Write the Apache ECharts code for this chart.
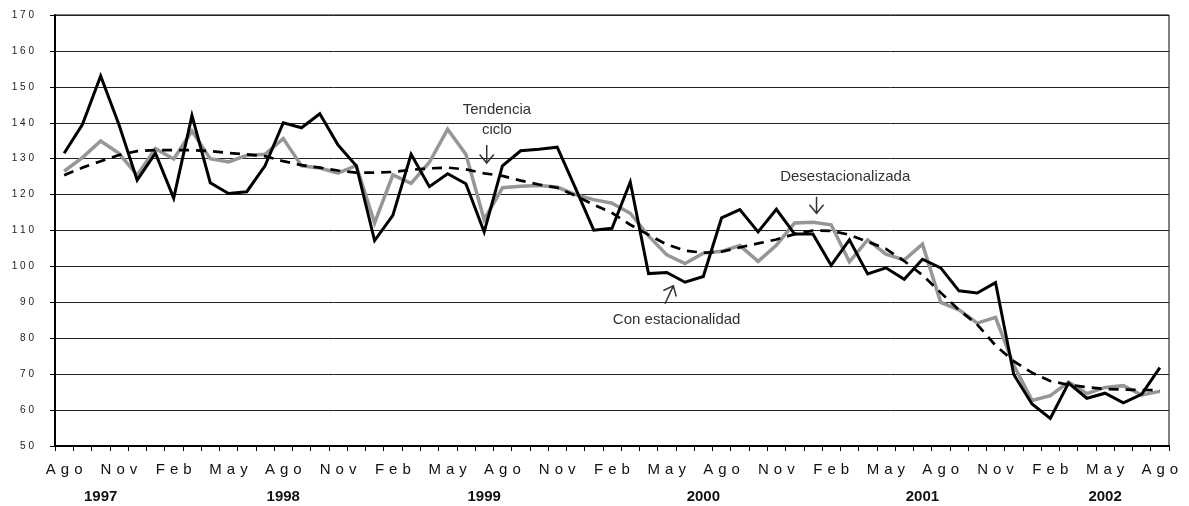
<!DOCTYPE html>
<html>
<head>
<meta charset="utf-8">
<script src="https://cdn.jsdelivr.net/npm/echarts@6/dist/echarts.min.js"></script>
<style>
  html, body { margin: 0; padding: 0; background: #fff; }
  #chart { width: 1189px; height: 506px; }
</style>
</head>
<body>
<div id="chart"></div>
<script>
// Monthly categories, Aug 1997 – Aug 2002
const categories = [
  'Ago-97','Sep-97','Oct-97','Nov-97','Dic-97',
  'Ene-98','Feb-98','Mar-98','Abr-98','May-98','Jun-98','Jul-98','Ago-98','Sep-98','Oct-98','Nov-98','Dic-98',
  'Ene-99','Feb-99','Mar-99','Abr-99','May-99','Jun-99','Jul-99','Ago-99','Sep-99','Oct-99','Nov-99','Dic-99',
  'Ene-00','Feb-00','Mar-00','Abr-00','May-00','Jun-00','Jul-00','Ago-00','Sep-00','Oct-00','Nov-00','Dic-00',
  'Ene-01','Feb-01','Mar-01','Abr-01','May-01','Jun-01','Jul-01','Ago-01','Sep-01','Oct-01','Nov-01','Dic-01',
  'Ene-02','Feb-02','Mar-02','Abr-02','May-02','Jun-02','Jul-02','Ago-02'
];

// Year captions under the month labels (category index -> year)
const yearLabels = { 2: '1997', 12: '1998', 23: '1999', 35: '2000', 47: '2001', 57: '2002' };

// Series with seasonality
const conEstacionalidad = [
  131.5, 139.5, 153.0, 139.5, 124.0,
  131.5, 119.0, 142.0, 123.3, 120.3, 120.8, 128.0, 140.0, 138.6, 142.5, 133.8, 128.0,
  107.2, 114.2, 131.2, 122.2, 125.8, 123.0, 109.6, 128.0, 132.2, 132.6, 133.2, 121.8,
  110.1, 110.6, 123.5, 98.0, 98.3, 95.6, 97.2, 113.5, 115.8, 109.6, 115.9, 109.0,
  109.0, 100.3, 107.4, 97.9, 99.6, 96.4, 102.0, 99.6, 93.2, 92.6, 95.5, 69.9,
  61.7, 57.7, 67.5, 63.3, 64.7, 62.0, 64.4, 71.8
];

// Seasonally adjusted series
const desestacionalizada = [
  126.5, 130.3, 134.9, 131.5, 125.4,
  132.8, 129.9, 137.7, 130.0, 129.1, 130.9, 131.2, 135.6, 128.0, 127.4, 126.0, 128.1,
  112.1, 125.5, 123.1, 129.0, 138.2, 131.2, 113.0, 121.9, 122.3, 122.5, 122.1, 120.0,
  118.6, 117.6, 114.8, 108.5, 103.2, 100.8, 103.7, 104.2, 105.8, 101.4, 105.9, 112.1,
  112.3, 111.6, 101.3, 107.4, 103.4, 101.8, 106.2, 90.0, 87.9, 84.2, 85.8, 72.5,
  62.7, 64.0, 67.8, 64.6, 66.3, 66.8, 64.2, 65.2
];

// Trend-cycle series
const tendenciaCiclo = [
  125.4, 127.5, 129.3, 131.0, 132.1,
  132.4, 132.4, 132.4, 132.1, 131.6, 131.2, 130.7, 129.3, 128.2, 127.5, 126.7, 126.1,
  126.1, 126.3, 126.9, 127.3, 127.5, 127.0, 125.9, 125.2, 123.9, 122.8, 121.9, 119.7,
  117.2, 114.9, 111.6, 108.8, 106.1, 104.4, 103.8, 104.1, 105.3, 106.4, 107.5, 109.0,
  110.0, 109.9, 108.8, 106.9, 104.9, 101.5, 97.6, 92.7, 87.9, 83.8, 78.0, 73.6,
  70.4, 68.1, 67.0, 66.4, 65.9, 65.7, 65.6, 65.5
];

// Callout texts with their arrows, in (month index, value) coordinates
const callouts = [
  { text: 'Tendencia\nciclo',    at: [23.7, 140.8], tail: [23.14, 133.8], tip: [23.14, 128.8] },
  { text: 'Desestacionalizada',  at: [42.77, 125.0], tail: [41.2, 119.4], tip: [41.2, 114.8] },
  { text: 'Con estacionalidad',  at: [33.54, 85.1], tail: [32.9, 89.6], tip: [33.36, 94.6] }
];

const FONT = "'Liberation Sans', Arial, sans-serif";
const spaced = (s, sep) => s.split('').join(sep);

const chart = echarts.init(document.getElementById('chart'), null, { renderer: 'canvas' });

chart.setOption({
  animation: false,
  backgroundColor: '#fff',
  grid: { left: 55, right: 20, top: 15, bottom: 60, show: true, borderColor: '#000', borderWidth: 1 },
  xAxis: [
    {
      type: 'category',
      data: categories,
      boundaryGap: true,
      position: 'bottom',
      axisLine: { onZero: false, lineStyle: { color: '#000', width: 2 } },
      axisTick: { show: true, interval: 0, length: 5, lineStyle: { color: '#000', width: 1 } },
      axisLabel: {
        interval: 2,
        margin: 16,
        fontSize: 15,
        color: '#111',
        fontFamily: FONT,
        formatter: v => spaced(v.split('-')[0], '\u2004')
      },
      splitLine: { show: false }
    },
    {
      type: 'category',
      data: categories,
      boundaryGap: true,
      position: 'bottom',
      axisLine: { show: false, onZero: false },
      axisTick: { show: false },
      axisLabel: {
        interval: 0,
        margin: 43,
        fontSize: 15,
        fontWeight: 'bold',
        color: '#111',
        fontFamily: FONT,
        formatter: (v, i) => yearLabels[i] || ''
      },
      splitLine: { show: false }
    },
    {
      // helper axis for placing callouts between months
      type: 'value', min: -0.5, max: categories.length - 0.5, show: false,
      axisLine: { onZero: false }
    }
  ],
  yAxis: {
    type: 'value',
    min: 50, max: 170, interval: 10,
    position: 'left',
    axisLine: { show: true, onZero: false, lineStyle: { color: '#000', width: 2 } },
    axisTick: { show: true, length: 5, lineStyle: { color: '#000', width: 1 } },
    axisLabel: {
      margin: 21,
      fontSize: 10,
      color: '#222',
      fontFamily: FONT,
      formatter: v => spaced(String(v), ' ')
    },
    splitLine: { show: true, lineStyle: { color: '#222', width: 1 } }
  },
  series: [
    {
      name: 'Desestacionalizada', type: 'line', data: desestacionalizada,
      showSymbol: false, symbol: 'none',
      lineStyle: { color: '#969696', width: 3.5, join: 'miter' }, z: 2
    },
    {
      name: 'Con estacionalidad', type: 'line', data: conEstacionalidad,
      showSymbol: false, symbol: 'none',
      lineStyle: { color: '#000', width: 3, join: 'miter' }, z: 3
    },
    {
      name: 'Tendencia ciclo', type: 'line', data: tendenciaCiclo,
      showSymbol: false, symbol: 'none',
      lineStyle: { color: '#000', width: 2.7, type: [10, 7] }, z: 4
    }
  ]
});

// Callouts: text plus an open-headed arrow, positioned through the axes
const toPx = p => chart.convertToPixel({ xAxisIndex: 2, yAxisIndex: 0 }, p);
const graphics = [];
callouts.forEach(c => {
  const at = toPx(c.at), tail = toPx(c.tail), tip = toPx(c.tip);
  graphics.push({
    type: 'text', x: at[0], y: at[1], z: 10,
    style: {
      text: c.text, fill: '#333', font: '15px ' + FONT,
      textAlign: 'center', textVerticalAlign: 'middle', lineHeight: 20
    }
  });
  graphics.push({
    type: 'polyline', z: 10,
    shape: { points: [tail, tip] },
    style: { stroke: '#333', lineWidth: 1.5, fill: null }
  });
  const dx = tip[0] - tail[0], dy = tip[1] - tail[1];
  const len = Math.hypot(dx, dy), ux = dx / len, uy = dy / len;
  const head = 11, ang = 40 * Math.PI / 180;
  const arm = s => [
    tip[0] - head * (ux * Math.cos(ang) - s * uy * Math.sin(ang)),
    tip[1] - head * (uy * Math.cos(ang) + s * ux * Math.sin(ang))
  ];
  graphics.push({
    type: 'polyline', z: 10,
    shape: { points: [arm(1), tip, arm(-1)] },
    style: { stroke: '#333', lineWidth: 1.5, fill: null }
  });
});
chart.setOption({ graphic: graphics });
</script>
</body>
</html>
